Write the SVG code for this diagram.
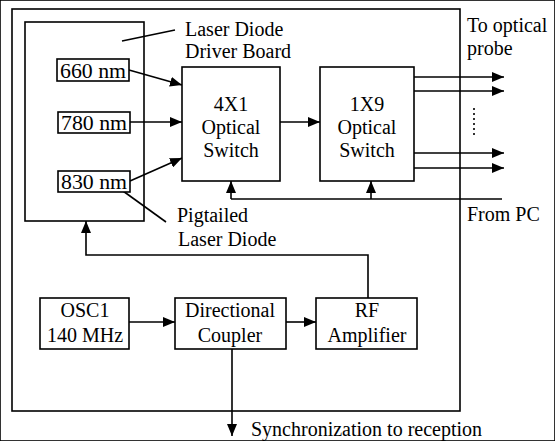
<svg xmlns="http://www.w3.org/2000/svg" width="555" height="441" viewBox="0 0 555 441">
<defs>
<marker id="ah" viewBox="0 0 12 10" refX="12" refY="5" markerWidth="12" markerHeight="10" markerUnits="userSpaceOnUse" orient="auto">
<path d="M0,0 L12,5 L0,10 Z" fill="#000"/>
</marker>
<style>
text{font-family:"Liberation Serif","Times New Roman",serif;font-size:20px;fill:#000}
.c{text-anchor:middle}
rect{fill:#fff;stroke:#000;stroke-width:1.6}
line,polyline{stroke:#000;stroke-width:1.6;fill:none}
.a{marker-end:url(#ah)}
</style>
</defs>
<rect width="555" height="441" fill="#fff" stroke="none"/>
<g font-family="Liberation Serif, serif">
<g id="outer"><rect x="12" y="9" width="448" height="402" fill="none"/></g>
<g id="driver-board"><rect x="25" y="22" width="119" height="199"/></g>
<g id="connectors">
<line x1="122" y1="41" x2="175" y2="30"/>
<line x1="123" y1="191" x2="166" y2="222"/>
<line class="a" x1="129" y1="70" x2="182" y2="85"/>
<line class="a" x1="130" y1="122" x2="182" y2="122"/>
<line class="a" x1="130" y1="181" x2="182" y2="158"/>
<line class="a" x1="280" y1="122" x2="320" y2="122"/>
<line class="a" x1="414" y1="77" x2="504" y2="77"/>
<line class="a" x1="414" y1="91" x2="504" y2="91"/>
<line class="a" x1="414" y1="153" x2="504" y2="153"/>
<line class="a" x1="414" y1="168" x2="504" y2="168"/>
<line x1="474" y1="108" x2="474" y2="136" stroke-dasharray="2,3"/>
<line x1="231" y1="199" x2="502" y2="199"/>
<line class="a" x1="231" y1="199" x2="231" y2="181"/>
<line class="a" x1="371" y1="199" x2="371" y2="181"/>
<polyline class="a" points="368,298 368,255 86,255 86,221"/>
<line class="a" x1="129" y1="322" x2="175" y2="322"/>
<line class="a" x1="286" y1="322" x2="316" y2="322"/>
<line class="a" x1="232" y1="349" x2="232" y2="436"/>
</g>
<g id="n660"><rect x="57" y="59" width="72" height="22"/><text class="c" x="93" y="78" textLength="66" lengthAdjust="spacingAndGlyphs">660 nm</text></g>
<g id="n780"><rect x="58" y="112" width="72" height="21"/><text class="c" x="94" y="130" textLength="66" lengthAdjust="spacingAndGlyphs">780 nm</text></g>
<g id="n830"><rect x="58" y="171" width="72" height="21"/><text class="c" x="94" y="189" textLength="66" lengthAdjust="spacingAndGlyphs">830 nm</text></g>
<g id="sw4x1"><rect x="182" y="67" width="98" height="114"/><text class="c" x="231" y="111">4X1</text><text class="c" x="231" y="134">Optical</text><text class="c" x="231" y="157">Switch</text></g>
<g id="sw1x9"><rect x="320" y="67" width="94" height="114"/><text class="c" x="367" y="111">1X9</text><text class="c" x="367" y="134">Optical</text><text class="c" x="367" y="157">Switch</text></g>
<g id="osc"><rect x="40" y="298" width="89" height="51"/><text class="c" x="85" y="317">OSC1</text><text class="c" x="85" y="342">140 MHz</text></g>
<g id="coupler"><rect x="175" y="298" width="111" height="51"/><text class="c" x="230" y="317">Directional</text><text class="c" x="230" y="342">Coupler</text></g>
<g id="rf"><rect x="316" y="298" width="101" height="51"/><text class="c" x="367" y="317">RF</text><text class="c" x="367" y="342">Amplifier</text></g>
<g id="labels">
<text x="185" y="36">Laser Diode</text>
<text x="185" y="58">Driver Board</text>
<text x="177" y="222">Pigtailed</text>
<text x="178" y="246">Laser Diode</text>
<text x="467" y="32">To optical</text>
<text x="467" y="55">probe</text>
<text x="467" y="221">From PC</text>
<text x="251" y="436">Synchronization to reception</text>
</g>
</g>
</svg>
